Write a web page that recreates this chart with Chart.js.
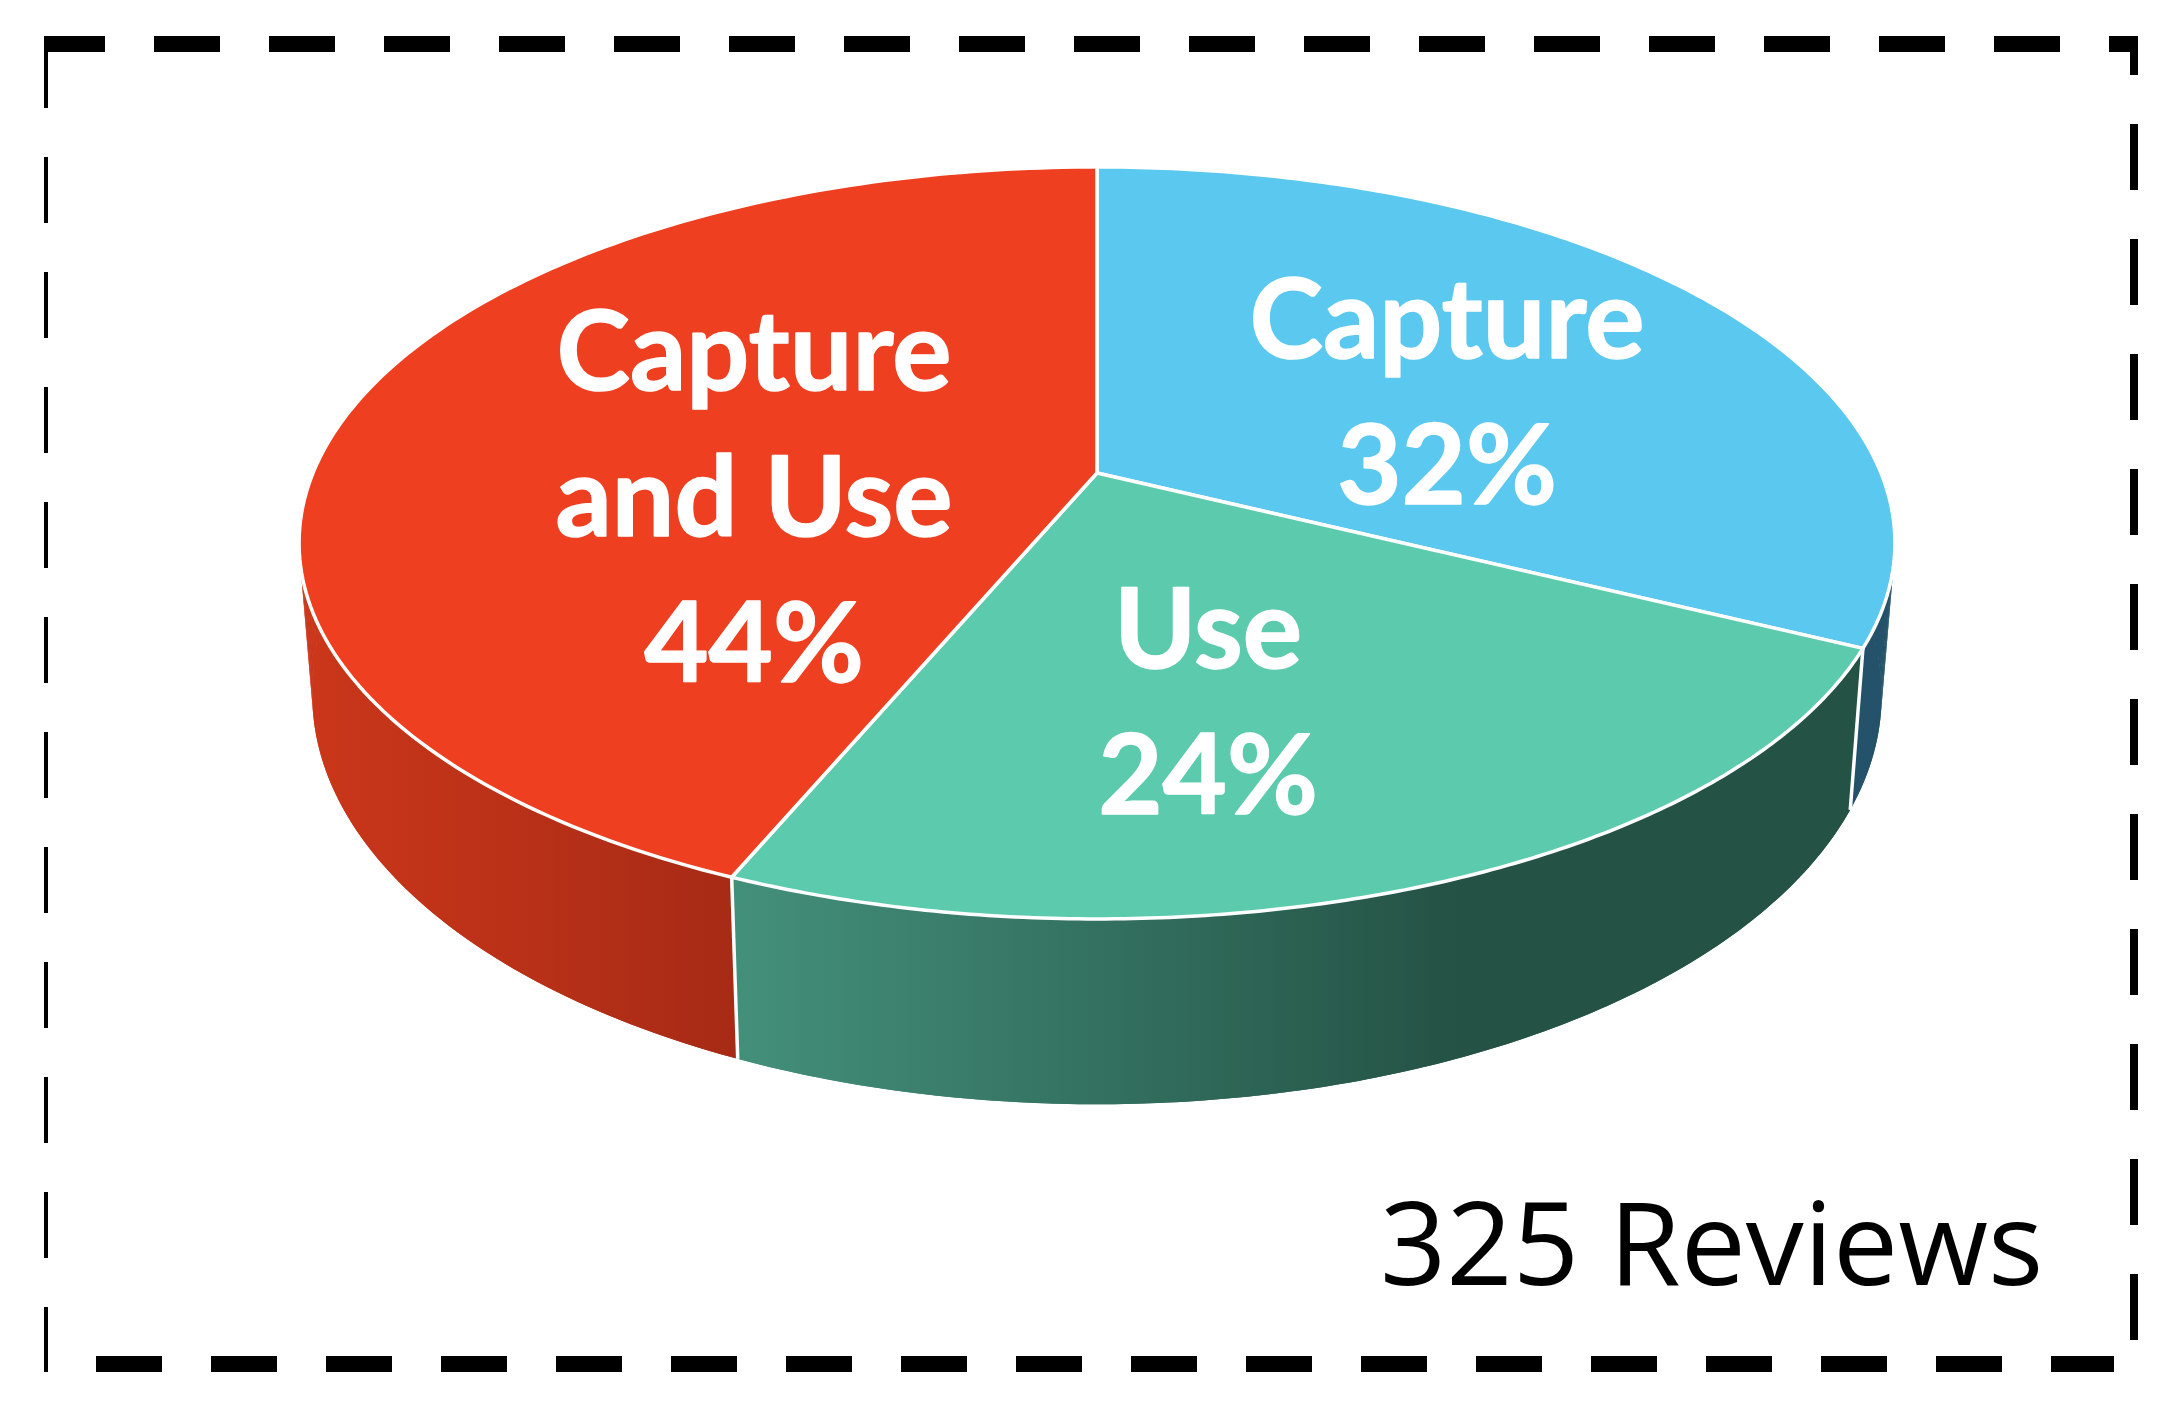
<!DOCTYPE html>
<html lang="en">
<head>
  <meta charset="UTF-8">
  <title>325 Reviews</title>
  <style>
    body { margin: 0; background: #fff; }
    canvas { display: block; }
  </style>
</head>
<body>
  <canvas id="pie" width="2177" height="1413"></canvas>
  <script src="https://cdn.jsdelivr.net/npm/chart.js@4.4.2/dist/chart.umd.min.js"></script>
  <script>
    // review counts, in drawing order clockwise from 12 o'clock
    const categories = ['Capture', 'Use', 'Capture and Use'];
    const reviewCounts = [105, 78, 142];
    const percentLabels = ['32%', '24%', '44%'];
    const categoryLines = [['Capture'], ['Use'], ['Capture', 'and Use']];
    const totalLabel = '325 Reviews';

    const faceColors = ['#5bc8f0', '#5ccaad', '#ee3f21'];

    // top and bottom rim of the disc, perspective circles
    const tilt = 0.186;
    const topRim = { x: 1097, y: 473, a: 784, b: 363 };
    const bottomRim = { x: 1097, y: 619, a: 771, b: 395 };
    const textPos = [[1447, 322], [1208, 632], [754, 354]];

    function rimPoint(rim, angle) {
      const d = 1 - tilt * Math.sin(angle);
      return [rim.x + rim.a * Math.cos(angle) / d, rim.y + rim.b * Math.sin(angle) / d];
    }

    function traceRim(ctx, rim, from, to) {
      const steps = 160;
      for (let i = 0; i <= steps; i++) {
        const p = rimPoint(rim, from + (to - from) * i / steps);
        ctx.lineTo(p[0], p[1]);
      }
    }

    function wallFill(ctx, i) {
      if (i === 0) return '#24526a';
      const g = ctx.createLinearGradient(i === 1 ? 735 : 300, 0, i === 1 ? 1460 : 745, 0);
      if (i === 1) {
        g.addColorStop(0, '#43907a');
        g.addColorStop(1, '#245245');
      } else {
        g.addColorStop(0, '#cb371a');
        g.addColorStop(1, '#a62a15');
      }
      return g;
    }

    function drawBorder(ctx) {
      ctx.save();
      ctx.strokeStyle = '#000';
      ctx.setLineDash([66, 49]);
      const sides = [
        [44, 44, 2138, 44, 16, 5],
        [46, 44, 46, 1372, 4, 2],
        [96, 1364, 2114, 1364, 16, 0],
        [2134, 39, 2134, 1340, 8, 30]
      ];
      sides.forEach(s => {
        ctx.lineWidth = s[4];
        ctx.lineDashOffset = s[5];
        ctx.beginPath();
        ctx.moveTo(s[0], s[1]);
        ctx.lineTo(s[2], s[3]);
        ctx.stroke();
      });
      ctx.restore();
    }

    const discPlugin = {
      id: 'disc',
      beforeDatasetsDraw(chart) {
        const ctx = chart.ctx;
        const arcs = chart.getDatasetMeta(0).data;
        ctx.save();
        ctx.lineJoin = 'round';

        // side walls, swept in small strips so the outer edge comes out straight
        arcs.forEach((arc, i) => {
          ctx.fillStyle = wallFill(ctx, i);
          ctx.beginPath();
          traceRim(ctx, topRim, arc.startAngle, arc.endAngle);
          traceRim(ctx, bottomRim, arc.endAngle, arc.startAngle);
          ctx.closePath();
          ctx.fill();
          const strips = 120;
          const step = (arc.endAngle - arc.startAngle) / strips;
          for (let n = 0; n < strips; n++) {
            const a0 = arc.startAngle + n * step;
            const a1 = a0 + step;
            const q = [rimPoint(topRim, a0), rimPoint(topRim, a1), rimPoint(bottomRim, a1), rimPoint(bottomRim, a0)];
            ctx.beginPath();
            q.forEach(p => ctx.lineTo(p[0], p[1]));
            ctx.closePath();
            ctx.fill();
          }
        });

        // white seams between the walls
        ctx.strokeStyle = '#fff';
        ctx.lineWidth = 3.5;
        [arcs[1].startAngle, arcs[1].endAngle].forEach(angle => {
          const t = rimPoint(topRim, angle);
          const b = rimPoint(bottomRim, angle);
          ctx.beginPath();
          ctx.moveTo(t[0], t[1]);
          ctx.lineTo(b[0], b[1]);
          ctx.stroke();
        });

        // top face
        arcs.forEach((arc, i) => {
          ctx.beginPath();
          ctx.moveTo(topRim.x, topRim.y);
          traceRim(ctx, topRim, arc.startAngle, arc.endAngle);
          ctx.closePath();
          ctx.fillStyle = arc.options.backgroundColor;
          ctx.fill();
          ctx.lineWidth = 3.5;
          ctx.stroke();
        });

        // labels
        ctx.fillStyle = '#fff';
        ctx.textAlign = 'center';
        ctx.textBaseline = 'middle';
        ctx.font = 'bold 111px Lato';
        ctx.lineWidth = 1.5;
        arcs.forEach((arc, i) => {
          const lines = categoryLines[i].concat(percentLabels[i]);
          lines.forEach((line, n) => {
            ctx.fillText(line, textPos[i][0], textPos[i][1] + n * 146);
            ctx.strokeText(line, textPos[i][0], textPos[i][1] + n * 146);
          });
        });

        ctx.fillStyle = '#000';
        ctx.textAlign = 'left';
        ctx.textBaseline = 'alphabetic';
        ctx.font = '116px "Open Sans"';
        ctx.fillText(totalLabel, 1380, 1285);

        drawBorder(ctx);
        ctx.restore();
        return false;
      }
    };

    new Chart(document.getElementById('pie'), {
      type: 'pie',
      data: {
        labels: categories,
        datasets: [{ data: reviewCounts, backgroundColor: faceColors }]
      },
      options: {
        responsive: false,
        animation: false,
        events: [],
        plugins: {
          legend: { display: false },
          tooltip: { enabled: false }
        }
      },
      plugins: [discPlugin]
    });
  </script>
</body>
</html>
